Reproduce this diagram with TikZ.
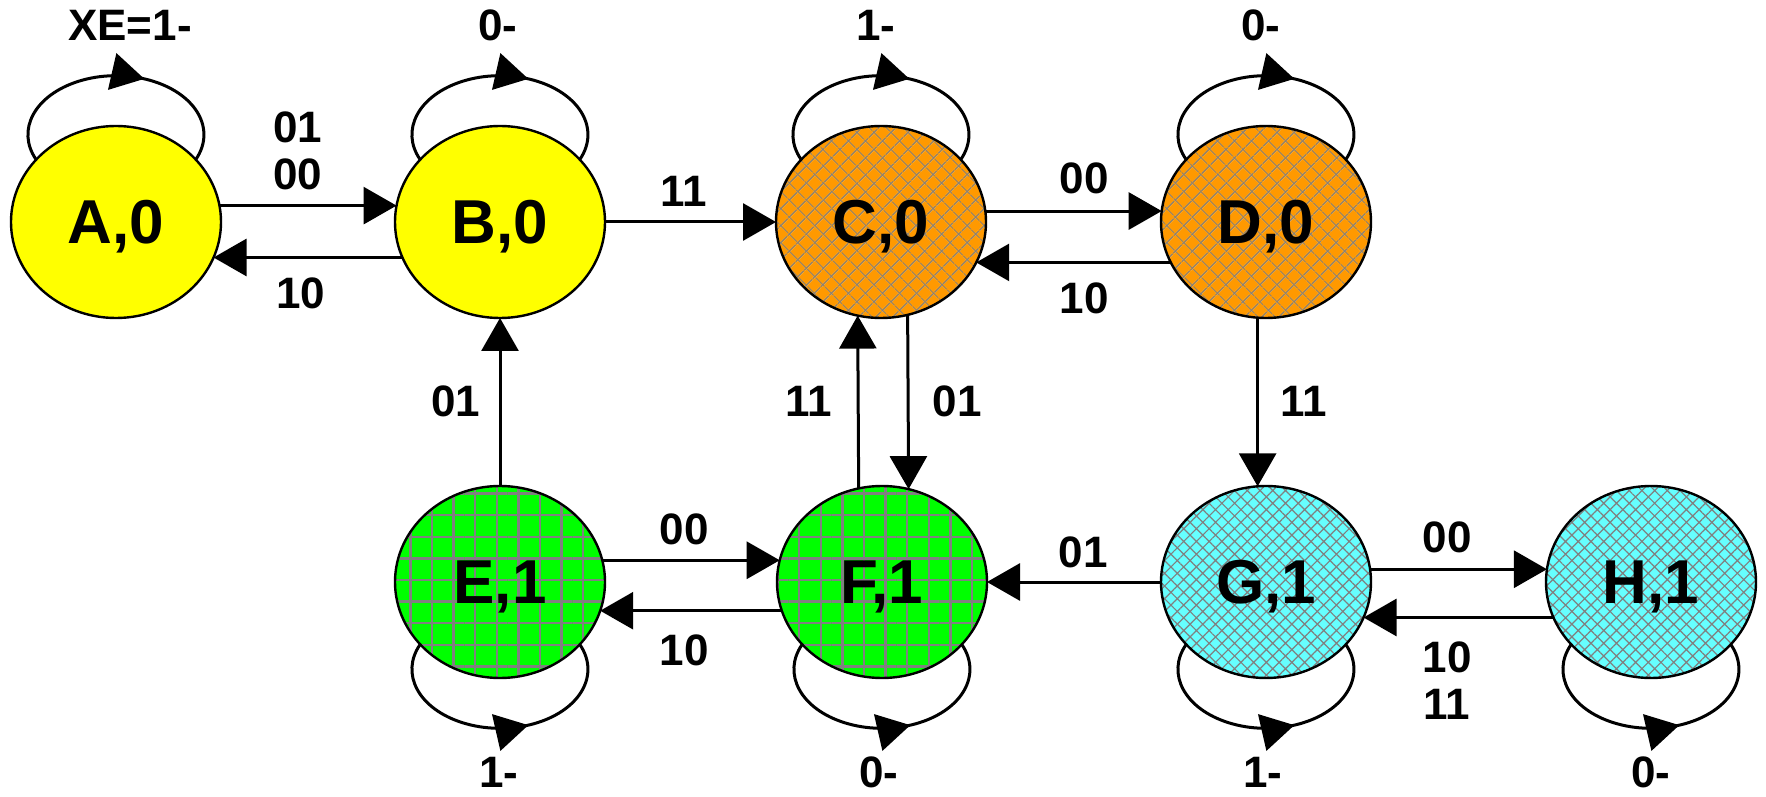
\documentclass[tikz,border=0pt]{standalone}
\usepackage{fontspec}
\setmainfont{Liberation Sans}
\usetikzlibrary{arrows.meta,shapes.geometric,patterns.meta,decorations.markings}
\definecolor{yellowc}{HTML}{FFFF00}
\definecolor{orangec}{HTML}{FF9900}
\definecolor{greenc}{HTML}{00FF00}
\definecolor{cyanc}{HTML}{66FFFF}
\definecolor{hatchc}{HTML}{808080}
\begin{document}
\begin{tikzpicture}[x=1pt,y=1pt,
  state/.style={ellipse, draw=black, line width=2.4pt, minimum width=210pt, minimum height=192pt,
    inner sep=0pt, outer sep=0pt, text depth=0pt, font=\fontsize{62}{70}\selectfont\bfseries},
  yel/.style={state, fill=yellowc},
  org/.style={state, preaction={fill=orangec},
    preaction={pattern={Lines[angle=45,distance=13pt,line width=1.6pt]}, pattern color=hatchc},
    preaction={pattern={Lines[angle=-45,distance=13pt,line width=1.2pt]}, pattern color=hatchc}},
  grn/.style={state, preaction={fill=greenc},
    preaction={pattern={Hatch[angle=0,distance=21.6pt,line width=2.4pt]}, pattern color=hatchc}},
  cyn/.style={state, preaction={fill=cyanc},
    preaction={pattern={Hatch[angle=45,distance=9pt,line width=1.2pt]}, pattern color=hatchc}},
  lbl/.style={font=\fontsize{44}{48}\selectfont\bfseries, inner sep=0pt},
  tr/.style={line width=3pt, -{Triangle[length=33pt,width=37pt]}},
  selfloop/.style={line width=3pt, postaction={decorate},
    decoration={markings, mark=at position 0.6 with {\arrow{Triangle[length=33pt,width=37pt]}}}}
]
\useasboundingbox (0,0) rectangle (1766,796);

\node[yel] (A) at (116,574) {A,0};
\node[yel] (B) at (500,574) {B,0};
\node[org] (C) at (881,574) {C,0};
\node[org] (D) at (1266,574) {D,0};
\node[grn] (E) at (500,214) {E,1};
\node[grn] (F) at (882,214) {F,1};
\node[cyn] (G) at (1266,214) {G,1};
\node[cyn] (H) at (1651,214) {H,1};

% self loops
\draw[selfloop] (A.142) arc[start angle=205, end angle=-25, x radius=88, y radius=59];
\draw[selfloop] (B.142) arc[start angle=205, end angle=-25, x radius=88, y radius=59];
\draw[selfloop] (C.142) arc[start angle=205, end angle=-25, x radius=88, y radius=59];
\draw[selfloop] (D.142) arc[start angle=205, end angle=-25, x radius=88, y radius=59];
\draw[selfloop] (E.218) arc[start angle=155, end angle=385, x radius=88, y radius=59];
\draw[selfloop] (F.218) arc[start angle=155, end angle=385, x radius=88, y radius=59];
\draw[selfloop] (G.218) arc[start angle=155, end angle=385, x radius=88, y radius=59];
\draw[selfloop] (H.218) arc[start angle=155, end angle=385, x radius=88, y radius=59];

% transitions
\draw[tr] (A.9) -- (B.171);
\draw[tr] (B.200) -- (A.340);
\draw[tr] (B.east) -- (C.west);
\draw[tr] (C.6) -- (D.174);
\draw[tr] (D.203) -- (C.337);
\draw[tr] (E.north) -- (B.south);
\draw[tr] (F.104) -- (C.256);
\draw[tr] (C.286) -- (F.74);
\draw[tr] (D.265) -- (G.95);
\draw[tr] (E.12) -- (F.168);
\draw[tr] (F.196) -- (E.344);
\draw[tr] (G.west) -- (F.east);
\draw[tr] (G.7) -- (H.173);
\draw[tr] (H.200) -- (G.340);

% labels
\node[lbl] (lAB1) at (298,669) {01};
\node[lbl] (lAB2) at (298,622) {00};
\node[lbl] (lBA) at (301,503) {10};
\node[lbl] (lBC) at (684,605) {11};
\node[lbl] (lCD) at (1084,618) {00};
\node[lbl] (lDC) at (1084,498) {10};
\node[lbl] (lEB) at (456,395) {01};
\node[lbl] (lFC) at (809,395) {11};
\node[lbl] (lCF) at (957,395) {01};
\node[lbl] (lDG) at (1304,395) {11};
\node[lbl] (lEF) at (684,267) {00};
\node[lbl] (lFE) at (684,146) {10};
\node[lbl] (lGF) at (1083,244) {01};
\node[lbl] (lGH) at (1447,259) {00};
\node[lbl] (lHG1) at (1447,139) {10};
\node[lbl] (lHG2) at (1447,92) {11};
\node[lbl] (lA) at (130,771) {XE=1-};
\node[lbl] (lB) at (498,771) {0-};
\node[lbl] (lC) at (876,771) {1-};
\node[lbl] (lD) at (1261,771) {0-};
\node[lbl] (lE) at (499,24) {1-};
\node[lbl] (lF) at (879,24) {0-};
\node[lbl] (lG) at (1263,24) {1-};
\node[lbl] (lH) at (1651,24) {0-};
\end{tikzpicture}
\end{document}
